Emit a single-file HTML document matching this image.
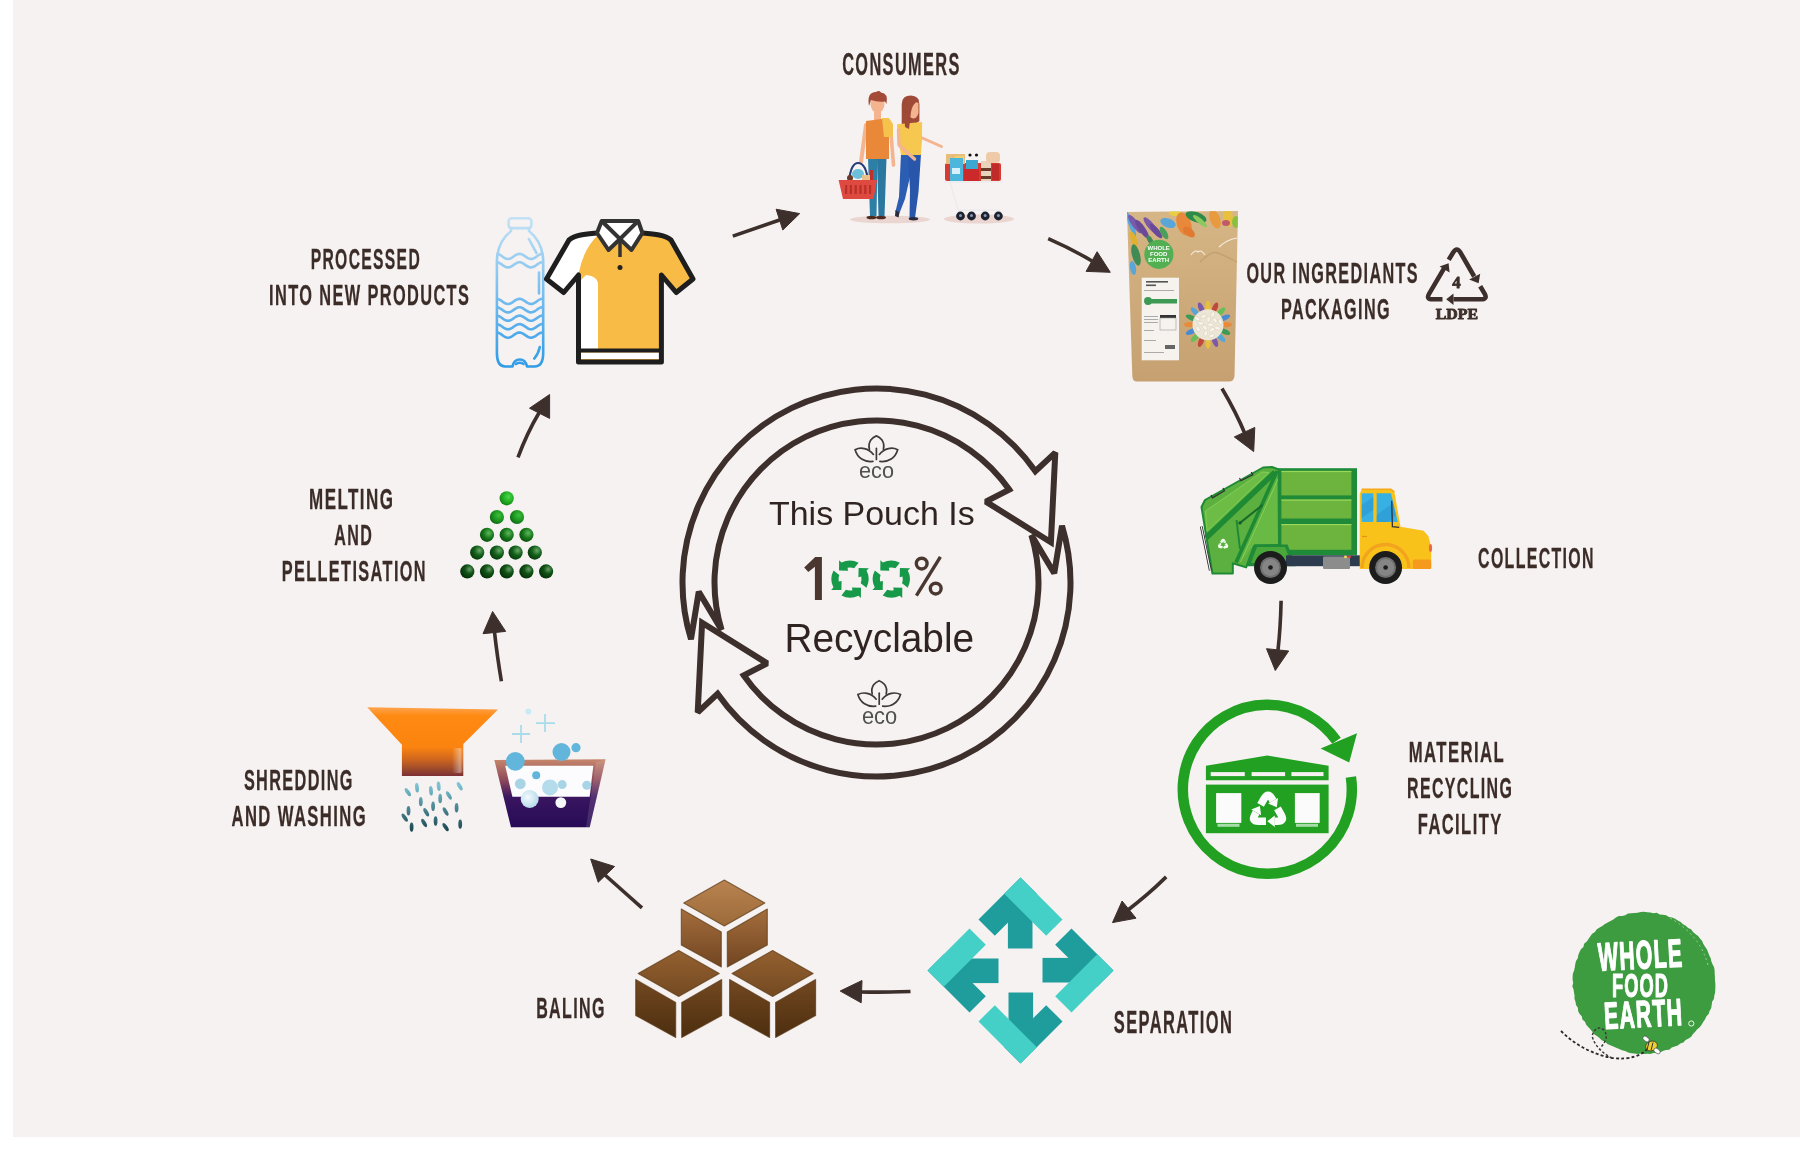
<!DOCTYPE html>
<html><head><meta charset="utf-8"><title>Recycling cycle</title>
<style>
html,body{margin:0;padding:0;background:#fff;}
body{width:1800px;height:1174px;position:relative;overflow:hidden;font-family:"Liberation Sans",sans-serif;}
#bg{position:absolute;left:13px;top:0;width:1787px;height:1137px;background:#f6f2f1;}
svg{position:absolute;left:0;top:0;will-change:transform;}
</style></head><body>
<div id="bg"></div>
<svg width="1800" height="1174" viewBox="0 0 1800 1174">
<defs>
<linearGradient id="gFunnel" gradientUnits="userSpaceOnUse" x1="0" y1="707" x2="0" y2="776">
 <stop offset="0" stop-color="#ffa450"/><stop offset="0.13" stop-color="#ff8a12"/><stop offset="0.58" stop-color="#fb830f"/><stop offset="0.75" stop-color="#d2681e"/><stop offset="0.9" stop-color="#9c4a2c"/><stop offset="1" stop-color="#7c3036"/></linearGradient>
<linearGradient id="gFunHi" gradientUnits="userSpaceOnUse" x1="452" y1="0" x2="463" y2="0">
 <stop offset="0" stop-color="#fff" stop-opacity="0"/><stop offset="0.75" stop-color="#fff" stop-opacity="0.4"/><stop offset="1" stop-color="#fff" stop-opacity="0.05"/></linearGradient>
<linearGradient id="gShred" gradientUnits="userSpaceOnUse" x1="0" y1="785" x2="0" y2="830">
 <stop offset="0" stop-color="#7cc3d3"/><stop offset="1" stop-color="#1f4a55"/></linearGradient>
<linearGradient id="gBasin" gradientUnits="userSpaceOnUse" x1="0" y1="759" x2="0" y2="828">
 <stop offset="0" stop-color="#c8886c"/><stop offset="0.3" stop-color="#8e4a5a"/><stop offset="0.55" stop-color="#3a1560"/><stop offset="1" stop-color="#260b56"/></linearGradient>
<linearGradient id="gCube" gradientUnits="userSpaceOnUse" x1="0" y1="880" x2="0" y2="1040">
 <stop offset="0" stop-color="#b8834f"/><stop offset="0.5" stop-color="#8c5a2c"/><stop offset="1" stop-color="#4e3010"/></linearGradient>
<linearGradient id="gBottle" gradientUnits="userSpaceOnUse" x1="0" y1="218" x2="0" y2="367">
 <stop offset="0" stop-color="#c4e2f6"/><stop offset="1" stop-color="#2f9be6"/></linearGradient>
<linearGradient id="gPouch" gradientUnits="userSpaceOnUse" x1="0" y1="211" x2="0" y2="381">
 <stop offset="0" stop-color="#d6b686"/><stop offset="1" stop-color="#c6a070"/></linearGradient>
<radialGradient id="gPel1" cx="0.62" cy="0.38" r="0.7"><stop offset="0" stop-color="#4ad84a"/><stop offset="0.6" stop-color="#1fa81f"/><stop offset="1" stop-color="#137a15"/></radialGradient>
<radialGradient id="gPel2" cx="0.62" cy="0.38" r="0.7"><stop offset="0" stop-color="#3cc03c"/><stop offset="0.6" stop-color="#1a901c"/><stop offset="1" stop-color="#0e6012"/></radialGradient>
<radialGradient id="gPel3" cx="0.62" cy="0.38" r="0.7"><stop offset="0" stop-color="#5cb85c"/><stop offset="0.55" stop-color="#157418"/><stop offset="1" stop-color="#0a4a0e"/></radialGradient>
<radialGradient id="gPel4" cx="0.65" cy="0.35" r="0.7"><stop offset="0" stop-color="#6aa86a"/><stop offset="0.5" stop-color="#12601a"/><stop offset="1" stop-color="#073a0b"/></radialGradient>
<radialGradient id="gPel5" cx="0.65" cy="0.35" r="0.7"><stop offset="0" stop-color="#6a9a6a"/><stop offset="0.45" stop-color="#0f5314"/><stop offset="1" stop-color="#062e08"/></radialGradient>
<radialGradient id="gBub" cx="0.4" cy="0.4" r="0.6"><stop offset="0" stop-color="#f4fafd"/><stop offset="1" stop-color="#b7dceb"/></radialGradient>
</defs>
<g class="consumers">
<ellipse cx="890" cy="219.5" rx="40" ry="3.8" fill="#ead5d0"/>
<ellipse cx="979" cy="219" rx="35" ry="4.6" fill="#ead5d0"/>
<path d="M866,125 L861,162" stroke="#f3b48f" stroke-width="4" stroke-linecap="round"/>
<path d="M891,134 L893.5,165" stroke="#f3b48f" stroke-width="3.6" stroke-linecap="round"/>
<polygon points="868,158 877.5,158 876.5,216 870,216" fill="#2e7fa6"/>
<polygon points="877,158 886.5,158 884.5,216 878.5,216" fill="#2a77a0"/>
<ellipse cx="871.5" cy="217.5" rx="5" ry="1.8" fill="#4d2a1f"/><ellipse cx="881" cy="217.5" rx="5" ry="1.8" fill="#4d2a1f"/>
<rect x="874" y="110" width="7" height="10" fill="#f3b48f"/>
<polygon points="866,121 889,118 889,159 866,159" fill="#ea883a"/>
<polygon points="882,118 889,118 893,124 893,137 884,137" fill="#f5c24d"/>
<ellipse cx="877.5" cy="104" rx="7" ry="9" fill="#f3b48f"/>
<path d="M869,106 Q866.5,92 876,92 Q879,90 881,92.5 Q888.5,93 886.5,104 L885,101.5 Q878,102.5 871,100 Z" fill="#a34a39"/>
<path d="M849,181 Q851,163 858,163 Q866,163 868,181" stroke="#263d7a" stroke-width="2.2" fill="none"/>
<ellipse cx="858" cy="174" rx="6" ry="5" fill="#6cc0dc"/><circle cx="850" cy="178" r="3" fill="#6a3a2a"/><rect x="862" y="175" width="8" height="5" fill="#e8c08a"/><rect x="870" y="170" width="3" height="10" fill="#c0302a"/>
<polygon points="838.6,180 877,180 873.5,199 843,199" fill="#de4a3f"/>
<g fill="#b8302a"><rect x="845.0" y="185" width="2.2" height="9"/><rect x="849.8" y="185" width="2.2" height="9"/><rect x="854.6" y="185" width="2.2" height="9"/><rect x="859.4" y="185" width="2.2" height="9"/><rect x="864.2" y="185" width="2.2" height="9"/><rect x="869.0" y="185" width="2.2" height="9"/></g>
<path d="M901.7,124 L901.7,104 Q902,95.6 911,95.6 Q919.2,96 919.4,104 L919.4,121 L909,129 Z" fill="#9e4a37"/>
<path d="M920,137 L941.5,146.5" stroke="#f3b48f" stroke-width="3" stroke-linecap="round"/>
<polygon points="901,154 915,154 905,199 899.5,213 895.5,211.5 899,197" fill="#2b5db3"/>
<polygon points="908,154 921,154 918.5,192 915,218 909.5,218 910,190" fill="#2856aa"/>
<path d="M895.5,210 L899.5,212.5 L898.5,217.5 L895,216 Z" fill="#2a2a3a"/><ellipse cx="913.5" cy="218.8" rx="4.8" ry="1.7" fill="#2a2a3a"/>
<polygon points="897,124.2 922.1,121.9 922,140 920.9,155 901.1,155.1 898,140" fill="#f6c84f"/>
<path d="M898.5,130 L899,145 L914.5,159" stroke="#f3b48f" stroke-width="3.4" stroke-linecap="round" stroke-linejoin="round" fill="none"/>
<path d="M909.8,104 Q913,100.5 918.5,103 L918.5,113 Q917,118.5 913,118.5 L909.5,117 Z" fill="#f3b48f"/>
<path d="M909,98 Q903,100 904,112 L905,127 L909,129 L911,112 Q912,104 919,100 Q915,96 909,98 Z" fill="#9e4a37"/>
<rect x="945" y="163" width="56" height="18" rx="2" fill="#d63a30"/>
<rect x="946" y="154" width="19" height="10" fill="#e6bd7a"/><rect x="955" y="156" width="9" height="8" fill="#f0d070"/>
<circle cx="970" cy="155" r="1.6" fill="#111"/><circle cx="976.5" cy="155" r="1.6" fill="#111"/>
<rect x="950" y="158" width="13" height="23" fill="#4cb6dc"/><rect x="952" y="168" width="8" height="6" fill="#d8f0fa"/>
<rect x="966" y="160" width="12" height="9" fill="#3aa8d0"/>
<rect x="964" y="169" width="15" height="12" fill="#cc2a2a"/>
<rect x="981" y="161" width="10" height="20" fill="#ead2bc"/><rect x="981" y="168" width="10" height="3" fill="#6a3a2a"/><rect x="981" y="176" width="10" height="3" fill="#6a3a2a"/>
<rect x="986" y="152" width="14" height="11" rx="4" fill="#eecaa8"/>
<rect x="992" y="164" width="7" height="16" fill="#c02a28"/>
<g stroke="#e8e8ea" stroke-width="1" fill="none"><path d="M944,182 L1003,182 M950,182 L958,210 L1000,210"/></g>
<circle cx="960.5" cy="216" r="4.4" fill="#1c2230"/><circle cx="960.5" cy="215.5" r="1.5" fill="#8a9ab0"/>
<circle cx="971.5" cy="216" r="4.4" fill="#1c2230"/><circle cx="971.5" cy="215.5" r="1.5" fill="#8a9ab0"/>
<circle cx="985.2" cy="216" r="4.4" fill="#1c2230"/><circle cx="985.2" cy="215.5" r="1.5" fill="#8a9ab0"/>
<circle cx="998.4" cy="216" r="4.4" fill="#1c2230"/><circle cx="998.4" cy="215.5" r="1.5" fill="#8a9ab0"/>
</g>
<g class="pouch">
<clipPath id="pouchClip"><path d="M1127,212 L1238,211 L1234.5,376 Q1234,381.5 1229,381.5 L1137,381.5 Q1132.5,381.5 1132.3,376 Z"/></clipPath>
<path d="M1127,212 L1238,211 L1234.5,376 Q1234,381.5 1229,381.5 L1137,381.5 Q1132.5,381.5 1132.3,376 Z" fill="url(#gPouch)"/>
<g clip-path="url(#pouchClip)">
<ellipse cx="1131" cy="224" rx="13" ry="2.5" transform="rotate(70 1131 224)" fill="#5aa6d8"/>
<ellipse cx="1135" cy="224" rx="11" ry="3.2" transform="rotate(55 1135 224)" fill="#7a5aa8"/>
<ellipse cx="1142" cy="229" rx="11" ry="3.2" transform="rotate(55 1142 229)" fill="#6a4a98"/>
<ellipse cx="1151" cy="226" rx="11" ry="3.2" transform="rotate(50 1151 226)" fill="#7a5aa8"/>
<ellipse cx="1156" cy="231" rx="9" ry="3" transform="rotate(50 1156 231)" fill="#6a4a98"/>
<ellipse cx="1168" cy="223" rx="8" ry="4.5" transform="rotate(20 1168 223)" fill="#5aa6d8"/>
<ellipse cx="1164" cy="233" rx="7" ry="3" transform="rotate(60 1164 233)" fill="#4aa05a"/>
<ellipse cx="1175" cy="213" rx="6" ry="3" transform="rotate(0 1175 213)" fill="#e8d040"/>
<ellipse cx="1184" cy="224" rx="12" ry="7" transform="rotate(70 1184 224)" fill="#e7883a"/>
<ellipse cx="1189" cy="232" rx="7" ry="4" transform="rotate(40 1189 232)" fill="#e07a30"/>
<ellipse cx="1196" cy="217" rx="11" ry="5" transform="rotate(20 1196 217)" fill="#2e8a48"/>
<ellipse cx="1200" cy="221" rx="9" ry="2.5" transform="rotate(40 1200 221)" fill="#8ac860"/>
<ellipse cx="1134" cy="240" rx="9" ry="3" transform="rotate(70 1134 240)" fill="#e0b030"/>
<ellipse cx="1136" cy="255" rx="11" ry="4" transform="rotate(75 1136 255)" fill="#3f8a55"/>
<ellipse cx="1133" cy="268" rx="7" ry="3" transform="rotate(80 1133 268)" fill="#5aa6d8"/>
<ellipse cx="1215" cy="219" rx="10" ry="5" transform="rotate(70 1215 219)" fill="#e89a3e"/>
<ellipse cx="1228" cy="218" rx="9" ry="5" transform="rotate(80 1228 218)" fill="#e8c040"/>
<ellipse cx="1226" cy="223" rx="4" ry="3" transform="rotate(0 1226 223)" fill="#c05a6a"/>
<ellipse cx="1236" cy="222" rx="4" ry="6" transform="rotate(0 1236 222)" fill="#8ac040"/>
<ellipse cx="1150" cy="240" rx="5" ry="2.5" transform="rotate(60 1150 240)" fill="#3f8a55"/>
</g>
<circle cx="1158.9" cy="254.3" r="14.6" fill="#52b052"/>
<g fill="#fff" font-family="Liberation Sans" font-weight="bold" font-size="6" text-anchor="middle"><text x="1158.7" y="250">WHOLE</text><text x="1158.7" y="256">FOOD</text><text x="1158.7" y="262">EARTH</text></g>
<path d="M1191,255 Q1195,249 1198,252 Q1201,249 1205,255 M1219,247 Q1226,240 1237,238" stroke="#f4ecdc" stroke-width="1.1" fill="none"/><path d="M1200,262 Q1212,250 1218,253 Q1226,256 1237,262" stroke="#b89868" stroke-width="1.4" fill="none" opacity="0.6"/>
<rect x="1141.7" y="277.7" width="37.3" height="82.6" fill="#f6f3ee"/>
<g fill="#555"><rect x="1146" y="281" width="22" height="1.6"/><rect x="1146" y="284.5" width="10" height="1.6"/><rect x="1144" y="290" width="30" height="0.8" fill="#999"/></g>
<circle cx="1148" cy="301" r="4" fill="#3d9a55"/><rect x="1151" y="299" width="26" height="4.5" fill="#3d9a55"/>
<g fill="#aaa"><rect x="1144" y="316" width="14" height="1"/><rect x="1144" y="319" width="14" height="1"/><rect x="1144" y="322" width="14" height="1"/><rect x="1144" y="330" width="10" height="1"/><rect x="1144" y="340" width="12" height="1"/><rect x="1144" y="352" width="20" height="1"/></g>
<rect x="1160" y="315" width="16" height="3" fill="#333"/><rect x="1160" y="318" width="16" height="12" fill="none" stroke="#999" stroke-width="0.6"/><rect x="1165" y="345" width="10" height="4" fill="#666"/>
<ellipse cx="1226.0" cy="324.7" rx="6" ry="2.6" transform="rotate(0.0 1226.0 324.7)" fill="#e88a3a"/>
<ellipse cx="1224.6" cy="331.6" rx="6" ry="2.6" transform="rotate(22.5 1224.6 331.6)" fill="#3e9a55"/>
<ellipse cx="1220.7" cy="337.4" rx="6" ry="2.6" transform="rotate(45.0 1220.7 337.4)" fill="#58a6d8"/>
<ellipse cx="1214.9" cy="341.3" rx="6" ry="2.6" transform="rotate(67.5 1214.9 341.3)" fill="#7a5aa8"/>
<ellipse cx="1208.0" cy="342.7" rx="6" ry="2.6" transform="rotate(90.0 1208.0 342.7)" fill="#e8c040"/>
<ellipse cx="1201.1" cy="341.3" rx="6" ry="2.6" transform="rotate(112.5 1201.1 341.3)" fill="#c04a3a"/>
<ellipse cx="1195.3" cy="337.4" rx="6" ry="2.6" transform="rotate(135.0 1195.3 337.4)" fill="#6abe5a"/>
<ellipse cx="1191.4" cy="331.6" rx="6" ry="2.6" transform="rotate(157.5 1191.4 331.6)" fill="#4a8ad0"/>
<ellipse cx="1190.0" cy="324.7" rx="6" ry="2.6" transform="rotate(180.0 1190.0 324.7)" fill="#e88a3a"/>
<ellipse cx="1191.4" cy="317.8" rx="6" ry="2.6" transform="rotate(202.5 1191.4 317.8)" fill="#3e9a55"/>
<ellipse cx="1195.3" cy="312.0" rx="6" ry="2.6" transform="rotate(225.0 1195.3 312.0)" fill="#58a6d8"/>
<ellipse cx="1201.1" cy="308.1" rx="6" ry="2.6" transform="rotate(247.5 1201.1 308.1)" fill="#7a5aa8"/>
<ellipse cx="1208.0" cy="306.7" rx="6" ry="2.6" transform="rotate(270.0 1208.0 306.7)" fill="#e8c040"/>
<ellipse cx="1214.9" cy="308.1" rx="6" ry="2.6" transform="rotate(292.5 1214.9 308.1)" fill="#c04a3a"/>
<ellipse cx="1220.7" cy="312.0" rx="6" ry="2.6" transform="rotate(315.0 1220.7 312.0)" fill="#6abe5a"/>
<ellipse cx="1224.6" cy="317.8" rx="6" ry="2.6" transform="rotate(337.5 1224.6 317.8)" fill="#4a8ad0"/>
<circle cx="1208" cy="324.7" r="15.5" fill="#ece6d6"/>
<ellipse cx="1210.5" cy="324.7" rx="3" ry="1.8" transform="rotate(0 1210.5 324.7)" fill="#f8f4ea" stroke="#d4ccb8" stroke-width="0.5"/>
<ellipse cx="1204.9" cy="327.6" rx="3" ry="1.8" transform="rotate(47 1204.9 327.6)" fill="#f8f4ea" stroke="#d4ccb8" stroke-width="0.5"/>
<ellipse cx="1208.5" cy="319.2" rx="3" ry="1.8" transform="rotate(94 1208.5 319.2)" fill="#f8f4ea" stroke="#d4ccb8" stroke-width="0.5"/>
<ellipse cx="1212.0" cy="329.8" rx="3" ry="1.8" transform="rotate(141 1212.0 329.8)" fill="#f8f4ea" stroke="#d4ccb8" stroke-width="0.5"/>
<ellipse cx="1200.7" cy="323.4" rx="3" ry="1.8" transform="rotate(8 1200.7 323.4)" fill="#f8f4ea" stroke="#d4ccb8" stroke-width="0.5"/>
<ellipse cx="1214.9" cy="320.3" rx="3" ry="1.8" transform="rotate(55 1214.9 320.3)" fill="#f8f4ea" stroke="#d4ccb8" stroke-width="0.5"/>
<ellipse cx="1205.7" cy="333.3" rx="3" ry="1.8" transform="rotate(102 1205.7 333.3)" fill="#f8f4ea" stroke="#d4ccb8" stroke-width="0.5"/>
<ellipse cx="1203.6" cy="316.3" rx="3" ry="1.8" transform="rotate(149 1203.6 316.3)" fill="#f8f4ea" stroke="#d4ccb8" stroke-width="0.5"/>
<ellipse cx="1217.5" cy="328.1" rx="3" ry="1.8" transform="rotate(16 1217.5 328.1)" fill="#f8f4ea" stroke="#d4ccb8" stroke-width="0.5"/>
<ellipse cx="1198.1" cy="328.9" rx="3" ry="1.8" transform="rotate(63 1198.1 328.9)" fill="#f8f4ea" stroke="#d4ccb8" stroke-width="0.5"/>
<ellipse cx="1212.7" cy="314.5" rx="3" ry="1.8" transform="rotate(110 1212.7 314.5)" fill="#f8f4ea" stroke="#d4ccb8" stroke-width="0.5"/>
<ellipse cx="1211.6" cy="335.9" rx="3" ry="1.8" transform="rotate(157 1211.6 335.9)" fill="#f8f4ea" stroke="#d4ccb8" stroke-width="0.5"/>
<ellipse cx="1197.3" cy="318.7" rx="3" ry="1.8" transform="rotate(24 1197.3 318.7)" fill="#f8f4ea" stroke="#d4ccb8" stroke-width="0.5"/>
<ellipse cx="1220.4" cy="321.8" rx="3" ry="1.8" transform="rotate(71 1220.4 321.8)" fill="#f8f4ea" stroke="#d4ccb8" stroke-width="0.5"/>
</g>
<g class="ldpe" fill="none" stroke="#3d2f2b" stroke-width="4.6" stroke-linejoin="round">
<path d="M1448.7,259.8 L1453.3,252.3 Q1456.8,246.8 1460.3,252.3 L1474.2,276.5"/>
<path d="M1480.2,286.3 L1484.6,293.6 Q1487.8,299.3 1481.2,299.3 L1453.5,299.3"/>
<path d="M1442.5,299.3 L1432.4,299.3 Q1425.8,299.3 1429.2,293.6 L1444.2,268.2"/>
</g><g fill="#3d2f2b">
<polygon points="1478.6,283.2 1469.2,279.6 1480.2,273.8"/>
<polygon points="1446.2,299.3 1453.5,293.6 1453.5,305"/>
<polygon points="1448.6,263.2 1439.6,266.6 1449.6,272.4"/>
</g>
<g class="truck">
<polygon points="1201.5,507 1205,500 1263,467.5 1272,467 1278.7,469.5 1278.7,544.4 1254.3,544.9 1246.1,567.4 1232.8,563.3 1232.8,573.5 1212.4,573.5" fill="#5cb040" stroke="#1e8a34" stroke-width="2" stroke-linejoin="round"/>
<polygon points="1205.5,511 1262,472 1269,472.5 1207,531" fill="#6cbc45" stroke="#8ad65a" stroke-width="0.8"/>
<polygon points="1242,560 1277,480 1278,544 1254,544.5" fill="#68ba44"/>
<path d="M1206,538 L1275,472.3" stroke="#1e8a34" stroke-width="5.5"/>
<path d="M1236,562.5 L1277,471" stroke="#1e8a34" stroke-width="3.6"/>
<path d="M1240.5,562 L1278,479" stroke="#8ad65a" stroke-width="0.9"/>
<path d="M1240,522.9 L1262.5,505" stroke="#1a6a2a" stroke-width="2"/><path d="M1236.5,520 L1240,549" stroke="#1e8a34" stroke-width="2"/><circle cx="1240" cy="522.9" r="1.7" fill="#1a5a2a"/>
<path d="M1211,495 L1212.5,497.8 L1224.5,490.8 L1223,488 M1239.5,478 L1241,480.8 L1252.8,474.8 L1251.3,472" stroke="#333" stroke-width="1.2" fill="none"/>
<path d="M1201.3,526.5 L1210.3,570.4" stroke="#2a2a2a" stroke-width="2.8"/><path d="M1201.3,526.5 L1210.3,570.4" stroke="#fff" stroke-width="1.1"/>
<path d="M1221.04,542.66 L1222.07,540.88 Q1223.10,539.10 1224.13,540.88 L1224.50,541.53" stroke="#f4fff0" stroke-width="2.3" fill="none"/><polygon points="1223.0,542.4 1225.5,543.3 1226.0,540.7" fill="#f4fff0"/><path d="M1225.72,543.64 L1226.75,545.42 Q1227.78,547.20 1225.72,547.20 L1224.97,547.20" stroke="#f4fff0" stroke-width="2.3" fill="none"/><polygon points="1225.0,545.5 1222.9,547.2 1225.0,548.9" fill="#f4fff0"/><path d="M1222.54,547.20 L1220.48,547.20 Q1218.42,547.20 1219.45,545.42 L1219.83,544.77" stroke="#f4fff0" stroke-width="2.3" fill="none"/><polygon points="1221.3,545.6 1220.9,543.0 1218.3,543.9" fill="#f4fff0"/>
<rect x="1278" y="468.2" width="79" height="87.1" fill="#1f8a38"/>
<g fill="#6cb43e"><rect x="1281.4" y="470.9" width="70" height="24.5"/><rect x="1281.4" y="499.5" width="70" height="19"/><rect x="1281.4" y="524" width="70" height="25.8"/></g>
<g fill="#9ad85a"><rect x="1281.4" y="470.9" width="70" height="1.2"/><rect x="1281.4" y="499.5" width="70" height="1.2"/><rect x="1281.4" y="524" width="70" height="1.2"/></g>
<polygon points="1254.9,544.4 1287.6,544.4 1295.7,566.2 1246.7,566.2" fill="#1f8a38"/>
<polygon points="1257,547 1285,547 1291,563 1251,563" fill="#4aa83a"/>
<rect x="1286" y="555.3" width="74" height="10.9" fill="#2d3b4e"/>
<rect x="1323" y="556.5" width="27" height="12.5" rx="1" fill="#8c8c8c"/>
<circle cx="1345.5" cy="556.9" r="1.4" fill="#f4e04a"/><circle cx="1349.5" cy="556.9" r="1.4" fill="#e04040"/>
<path d="M1359.7,494 L1361.7,489.3 L1391,489.3 L1394.4,492 L1400.5,526.7 L1423.7,530.8 L1428.4,536.2 L1431.2,547.1 L1431.2,568.9 L1359.7,568.9 Z" fill="#f8c21a"/>
<path d="M1361.7,489.3 L1391,489.3 L1394.4,492" stroke="#f4a81a" stroke-width="1.5" fill="none"/>
<polygon points="1361.7,493.3 1373.3,493.3 1373.3,521.9 1361.7,521.9" fill="#37b0e4"/>
<polygon points="1376.7,493.3 1391,493.3 1397.8,521.9 1376.7,521.9" fill="#37b0e4"/>
<polygon points="1361.7,505 1373.3,497 1373.3,510 1361.7,518" fill="#2a98d0" opacity="0.6"/>
<polygon points="1376.7,515 1393,503 1396,515 1388,521.9 1376.7,521.9" fill="#2a98d0" opacity="0.6"/>
<path d="M1391.7,500.8 L1392.4,526.7 L1399.2,527.4" stroke="#2a3040" stroke-width="1.3" fill="none"/>
<path d="M1362,536.5 L1367,536.5" stroke="#e8901a" stroke-width="1.2"/>
<path d="M1362,568 A23.5,23.5 0 0 1 1409,568" stroke="#f2a41e" stroke-width="3.5" fill="none"/>
<rect x="1412.8" y="559.4" width="18.4" height="9.5" rx="1.5" fill="#f59a1c"/>
<ellipse cx="1430.5" cy="548" rx="1.6" ry="4" fill="#e86a4a"/>
<circle cx="1270.5" cy="567.5" r="16.5" fill="#1c1c1c"/><circle cx="1270.5" cy="567.5" r="10.5" fill="#6f6f6f"/><circle cx="1270.5" cy="567.5" r="8.5" fill="#858585"/><circle cx="1270.5" cy="567.5" r="2.3" fill="#1c1c1c"/>
<circle cx="1385.6" cy="567.5" r="16.5" fill="#1c1c1c"/><circle cx="1385.6" cy="567.5" r="10.5" fill="#6f6f6f"/><circle cx="1385.6" cy="567.5" r="8.5" fill="#858585"/><circle cx="1385.6" cy="567.5" r="2.3" fill="#1c1c1c"/>
</g>
<g class="mrf">
<path d="M1350.9,776.95 A84.5,84.5 0 1 1 1336.5,740.8" stroke="#21a021" stroke-width="10.5" fill="none"/>
<polygon points="1320.6,748.6 1357,733.3 1349.2,762.6" fill="#21a021"/>
<polygon points="1205.9,765.8 1267.2,755.6 1328.6,765.8 1328.6,780.3 1205.9,780.3" fill="#21a021"/>
<g fill="#f6f2f1"><rect x="1210.7" y="772.1" width="34.1" height="4"/><rect x="1251.6" y="772.1" width="33.5" height="4"/><rect x="1291.4" y="772.1" width="32.1" height="4"/></g>
<rect x="1205.9" y="784.6" width="122.7" height="48.6" fill="#21a021"/>
<g fill="#fbfbfb"><rect x="1216.1" y="793.1" width="25.2" height="29.8"/><rect x="1294.9" y="793.1" width="24.8" height="29.8"/></g>
<g fill="#a8dca8"><rect x="1217.5" y="823.8" width="22" height="3"/><rect x="1296" y="823.8" width="22" height="3"/></g>
<path d="M1260.57,804.87 L1264.28,798.43 Q1268.00,792.00 1271.72,798.43 L1273.07,800.77" stroke="#fbfbfb" stroke-width="7.6" fill="none"/><polygon points="1268.1,803.6 1276.8,807.2 1278.0,797.9" fill="#fbfbfb"/><path d="M1277.46,808.38 L1281.17,814.82 Q1284.89,821.25 1277.46,821.25 L1274.75,821.25" stroke="#fbfbfb" stroke-width="7.6" fill="none"/><polygon points="1274.8,815.5 1267.3,821.2 1274.8,827.0" fill="#fbfbfb"/><path d="M1265.97,821.25 L1258.54,821.25 Q1251.11,821.25 1254.83,814.82 L1256.18,812.48" stroke="#fbfbfb" stroke-width="7.6" fill="none"/><polygon points="1261.1,815.3 1259.9,806.0 1251.2,809.6" fill="#fbfbfb"/>
</g>
<g class="sep" transform="translate(1020.5,970.5)">
<g transform="rotate(0)"><rect x="-12.6" y="-62" width="24.6" height="40" fill="#1f9c9c"/><polygon points="-42,-51 0,-93 16.3,-76.7 -25.7,-34.7" fill="#1f9c9c"/><polygon points="0,-93 42,-51 25.7,-34.7 -16.3,-76.7" fill="#44d0c7"/></g>
<g transform="rotate(90)"><rect x="-12.6" y="-62" width="24.6" height="40" fill="#1f9c9c"/><polygon points="-42,-51 0,-93 16.3,-76.7 -25.7,-34.7" fill="#1f9c9c"/><polygon points="0,-93 42,-51 25.7,-34.7 -16.3,-76.7" fill="#44d0c7"/></g>
<g transform="rotate(180)"><rect x="-12.6" y="-62" width="24.6" height="40" fill="#1f9c9c"/><polygon points="-42,-51 0,-93 16.3,-76.7 -25.7,-34.7" fill="#1f9c9c"/><polygon points="0,-93 42,-51 25.7,-34.7 -16.3,-76.7" fill="#44d0c7"/></g>
<g transform="rotate(270)"><rect x="-12.6" y="-62" width="24.6" height="40" fill="#1f9c9c"/><polygon points="-42,-51 0,-93 16.3,-76.7 -25.7,-34.7" fill="#1f9c9c"/><polygon points="0,-93 42,-51 25.7,-34.7 -16.3,-76.7" fill="#44d0c7"/></g>
</g>
<defs><linearGradient id="cT1" x1="0" y1="0" x2="0" y2="1"><stop offset="0" stop-color="#b8834f"/><stop offset="1" stop-color="#9c6a3a"/></linearGradient><linearGradient id="cS1" x1="0" y1="0" x2="0" y2="1"><stop offset="0" stop-color="#a46d3c"/><stop offset="1" stop-color="#714622"/></linearGradient><linearGradient id="cT2" x1="0" y1="0" x2="0" y2="1"><stop offset="0" stop-color="#94602f"/><stop offset="1" stop-color="#744a22"/></linearGradient><linearGradient id="cS2" x1="0" y1="0" x2="0" y2="1"><stop offset="0" stop-color="#734821"/><stop offset="1" stop-color="#4c2e0f"/></linearGradient></defs>
<g class="cubes" stroke="#5a3814" stroke-width="1.1" stroke-opacity="0.7" stroke-linejoin="round">
<polygon points="724.3,880.0 764.9,903.0 724.3,926.0 683.7,903.0" fill="url(#cT1)"/>
<polygon points="681.3,909.0 721.3,932.0 721.3,967.0 681.3,945.0" fill="url(#cS1)"/>
<polygon points="727.3,932.0 767.3,909.0 767.3,945.0 727.3,967.0" fill="url(#cS1)"/>
<polygon points="678.7,950.5 719.3,973.5 678.7,996.5 638.1,973.5" fill="url(#cT2)"/>
<polygon points="635.7,979.5 675.7,1002.5 675.7,1037.5 635.7,1015.5" fill="url(#cS2)"/>
<polygon points="681.7,1002.5 721.7,979.5 721.7,1015.5 681.7,1037.5" fill="url(#cS2)"/>
<polygon points="772.6,950.5 813.2,973.5 772.6,996.5 732.0,973.5" fill="url(#cT2)"/>
<polygon points="729.6,979.5 769.6,1002.5 769.6,1037.5 729.6,1015.5" fill="url(#cS2)"/>
<polygon points="775.6,1002.5 815.6,979.5 815.6,1015.5 775.6,1037.5" fill="url(#cS2)"/>
</g>
<g class="funnel">
<polygon points="367.2,707.3 498,709.4 463.3,744.1 463.3,775.9 401.9,775.9 401.9,744.8" fill="url(#gFunnel)"/>
<rect x="451" y="748" width="12.3" height="25" rx="4" fill="url(#gFunHi)"/>
<ellipse cx="407.8" cy="792.1" rx="1.9" ry="4.7" transform="rotate(-35 407.8 792.1)" fill="url(#gShred)"/>
<ellipse cx="417" cy="787.8" rx="1.9" ry="4.7" transform="rotate(-5 417 787.8)" fill="url(#gShred)"/>
<ellipse cx="431" cy="790.8" rx="1.9" ry="4.7" transform="rotate(-5 431 790.8)" fill="url(#gShred)"/>
<ellipse cx="438.7" cy="786.2" rx="1.9" ry="4.7" transform="rotate(-5 438.7 786.2)" fill="url(#gShred)"/>
<ellipse cx="459.7" cy="786.2" rx="1.9" ry="4.7" transform="rotate(-30 459.7 786.2)" fill="url(#gShred)"/>
<ellipse cx="448.9" cy="795.4" rx="1.9" ry="4.7" transform="rotate(-30 448.9 795.4)" fill="url(#gShred)"/>
<ellipse cx="440.2" cy="798.5" rx="1.9" ry="4.7" transform="rotate(0 440.2 798.5)" fill="url(#gShred)"/>
<ellipse cx="420.8" cy="801.6" rx="1.9" ry="4.7" transform="rotate(0 420.8 801.6)" fill="url(#gShred)"/>
<ellipse cx="433.1" cy="806.2" rx="1.9" ry="4.7" transform="rotate(0 433.1 806.2)" fill="url(#gShred)"/>
<ellipse cx="456.6" cy="807.7" rx="1.9" ry="4.7" transform="rotate(0 456.6 807.7)" fill="url(#gShred)"/>
<ellipse cx="408.5" cy="810.8" rx="1.9" ry="4.7" transform="rotate(0 408.5 810.8)" fill="url(#gShred)"/>
<ellipse cx="426.2" cy="812.3" rx="1.9" ry="4.7" transform="rotate(-30 426.2 812.3)" fill="url(#gShred)"/>
<ellipse cx="445.6" cy="811.6" rx="1.9" ry="4.7" transform="rotate(-30 445.6 811.6)" fill="url(#gShred)"/>
<ellipse cx="404.7" cy="817.7" rx="1.9" ry="4.7" transform="rotate(-35 404.7 817.7)" fill="url(#gShred)"/>
<ellipse cx="435.6" cy="821" rx="1.9" ry="4.7" transform="rotate(0 435.6 821)" fill="url(#gShred)"/>
<ellipse cx="424.1" cy="823" rx="1.9" ry="4.7" transform="rotate(-30 424.1 823)" fill="url(#gShred)"/>
<ellipse cx="411.6" cy="827.1" rx="1.9" ry="4.7" transform="rotate(0 411.6 827.1)" fill="url(#gShred)"/>
<ellipse cx="445.6" cy="827.1" rx="1.9" ry="4.7" transform="rotate(-35 445.6 827.1)" fill="url(#gShred)"/>
<ellipse cx="460.2" cy="824.1" rx="1.9" ry="4.7" transform="rotate(0 460.2 824.1)" fill="url(#gShred)"/>
</g>
<g class="basin">
<polygon points="494.3,760 605.6,759.3 589.7,827.2 511,827.2" fill="url(#gBasin)"/>
<polygon points="505.2,765.8 593.3,765.8 589.7,796.8 512.4,796.8" fill="#fcfcfe"/>
<polygon points="596,762 605.6,759.3 589.7,827.2 586,827" fill="#fff" opacity="0.12"/>
<circle cx="515.3" cy="761.4" r="9.4" fill="#62b6dc"/>
<circle cx="561.5" cy="752" r="9" fill="#62b6dc"/>
<circle cx="576" cy="747.7" r="4.6" fill="#62b6dc"/>
<circle cx="536.2" cy="775.2" r="4" fill="#62b6dc"/>
<circle cx="520.3" cy="783.8" r="5.4" fill="#a8d4e6"/>
<circle cx="550" cy="787.4" r="8" fill="#b4dcea"/>
<circle cx="562.2" cy="784.6" r="4.5" fill="#a8d4e6"/>
<circle cx="586.8" cy="785.3" r="4.5" fill="#a8d4e6"/>
<circle cx="529.7" cy="799" r="9" fill="url(#gBub)"/>
<circle cx="560.8" cy="802.6" r="5.4" fill="#f4f8fa"/>
<g stroke="#a8dcea" stroke-width="1.8"><path d="M521,725 L521,743 M512,734 L530,734 M545,714 L545,732 M536,723.2 L555,723.2"/></g>
<circle cx="528.3" cy="711.6" r="3" fill="#c8eaf4"/>
</g>
<g class="pellets">
<circle cx="506.7" cy="498.3" r="7.1" fill="url(#gPel1)"/>
<circle cx="496.9" cy="517" r="7.1" fill="url(#gPel2)"/>
<circle cx="517" cy="517" r="7.1" fill="url(#gPel2)"/>
<circle cx="487" cy="534.8" r="7.1" fill="url(#gPel3)"/>
<circle cx="506.7" cy="534.8" r="7.1" fill="url(#gPel3)"/>
<circle cx="526.4" cy="534.8" r="7.1" fill="url(#gPel3)"/>
<circle cx="477.2" cy="552.6" r="7.1" fill="url(#gPel4)"/>
<circle cx="496.9" cy="552.6" r="7.1" fill="url(#gPel4)"/>
<circle cx="515.6" cy="552.6" r="7.1" fill="url(#gPel4)"/>
<circle cx="534.8" cy="552.6" r="7.1" fill="url(#gPel4)"/>
<circle cx="467.3" cy="571.4" r="7.1" fill="url(#gPel5)"/>
<circle cx="487" cy="571.4" r="7.1" fill="url(#gPel5)"/>
<circle cx="506.7" cy="571.4" r="7.1" fill="url(#gPel5)"/>
<circle cx="526.4" cy="571.4" r="7.1" fill="url(#gPel5)"/>
<circle cx="546.1" cy="571.4" r="7.1" fill="url(#gPel5)"/>
</g>
<g class="bottle" fill="none" stroke="url(#gBottle)" stroke-width="2.6" stroke-linecap="round" stroke-linejoin="round">
<rect x="508.6" y="218.3" width="22.8" height="9.8" rx="3"/>
<path d="M511,228.2 L511,231 C501,239 496.9,250 496.9,262 L496.9,353 C496.9,362 499,366.5 505,366.5 L512.5,366.5 C513.5,361.5 516,359.5 519.8,359.5 C523.5,359.5 526,361.5 527,366.5 L534.5,366.5 C540.5,366.5 543.2,362 543.2,353 L543.2,262 C543.2,250 539,239 529,231 L529,228.2"/>
<path d="M497.5,253.9 L499.0,254.4 L500.5,255.2 L502.0,256.2 L503.5,257.3 L505.0,258.2 L506.5,258.8 L508.0,259.0 L509.5,258.8 L511.0,258.2 L512.5,257.3 L514.0,256.2 L515.5,255.2 L517.0,254.4 L518.5,253.9 L520.0,253.8 L521.5,254.2 L523.0,254.9 L524.5,255.9 L526.0,256.9 L527.5,257.9 L529.0,258.6 L530.5,259.0 L532.0,258.9 L533.5,258.4 L535.0,257.6 L536.5,256.6 L538.0,255.5 L539.5,254.6 L541.0,254.0 L542.5,253.8"/>
<path d="M497.5,262.3 L499.0,262.8 L500.5,263.6 L502.0,264.6 L503.5,265.7 L505.0,266.6 L506.5,267.2 L508.0,267.4 L509.5,267.2 L511.0,266.6 L512.5,265.7 L514.0,264.6 L515.5,263.6 L517.0,262.8 L518.5,262.3 L520.0,262.2 L521.5,262.6 L523.0,263.3 L524.5,264.3 L526.0,265.3 L527.5,266.3 L529.0,267.0 L530.5,267.4 L532.0,267.3 L533.5,266.8 L535.0,266.0 L536.5,265.0 L538.0,263.9 L539.5,263.0 L541.0,262.4 L542.5,262.2"/>
<path d="M497.5,298.9 L499.0,299.4 L500.5,300.2 L502.0,301.2 L503.5,302.3 L505.0,303.2 L506.5,303.8 L508.0,304.0 L509.5,303.8 L511.0,303.2 L512.5,302.3 L514.0,301.2 L515.5,300.2 L517.0,299.4 L518.5,298.9 L520.0,298.8 L521.5,299.2 L523.0,299.9 L524.5,300.9 L526.0,301.9 L527.5,302.9 L529.0,303.6 L530.5,304.0 L532.0,303.9 L533.5,303.4 L535.0,302.6 L536.5,301.6 L538.0,300.5 L539.5,299.6 L541.0,299.0 L542.5,298.8"/>
<path d="M497.5,307.3 L499.0,307.8 L500.5,308.6 L502.0,309.6 L503.5,310.7 L505.0,311.6 L506.5,312.2 L508.0,312.4 L509.5,312.2 L511.0,311.6 L512.5,310.7 L514.0,309.6 L515.5,308.6 L517.0,307.8 L518.5,307.3 L520.0,307.2 L521.5,307.6 L523.0,308.3 L524.5,309.3 L526.0,310.3 L527.5,311.3 L529.0,312.0 L530.5,312.4 L532.0,312.3 L533.5,311.8 L535.0,311.0 L536.5,310.0 L538.0,308.9 L539.5,308.0 L541.0,307.4 L542.5,307.2"/>
<path d="M497.5,315.7 L499.0,316.2 L500.5,317.0 L502.0,318.0 L503.5,319.1 L505.0,320.0 L506.5,320.6 L508.0,320.8 L509.5,320.6 L511.0,320.0 L512.5,319.1 L514.0,318.0 L515.5,317.0 L517.0,316.2 L518.5,315.7 L520.0,315.6 L521.5,316.0 L523.0,316.7 L524.5,317.7 L526.0,318.7 L527.5,319.7 L529.0,320.4 L530.5,320.8 L532.0,320.7 L533.5,320.2 L535.0,319.4 L536.5,318.4 L538.0,317.3 L539.5,316.4 L541.0,315.8 L542.5,315.6"/>
<path d="M497.5,324.2 L499.0,324.7 L500.5,325.5 L502.0,326.5 L503.5,327.6 L505.0,328.5 L506.5,329.1 L508.0,329.3 L509.5,329.1 L511.0,328.5 L512.5,327.6 L514.0,326.5 L515.5,325.5 L517.0,324.7 L518.5,324.2 L520.0,324.1 L521.5,324.5 L523.0,325.2 L524.5,326.2 L526.0,327.2 L527.5,328.2 L529.0,328.9 L530.5,329.3 L532.0,329.2 L533.5,328.7 L535.0,327.9 L536.5,326.9 L538.0,325.8 L539.5,324.9 L541.0,324.3 L542.5,324.1"/>
<path d="M497.5,332.6 L499.0,333.1 L500.5,333.9 L502.0,334.9 L503.5,336.0 L505.0,336.9 L506.5,337.5 L508.0,337.7 L509.5,337.5 L511.0,336.9 L512.5,336.0 L514.0,334.9 L515.5,333.9 L517.0,333.1 L518.5,332.6 L520.0,332.5 L521.5,332.9 L523.0,333.6 L524.5,334.6 L526.0,335.6 L527.5,336.6 L529.0,337.3 L530.5,337.7 L532.0,337.6 L533.5,337.1 L535.0,336.3 L536.5,335.3 L538.0,334.2 L539.5,333.3 L541.0,332.7 L542.5,332.5"/>
<path d="M539,272.5 L539,293.5 M528.9,239 L536.4,252.9 M539.8,347 Q538.5,353.5 534.3,358.5 M516,364 Q519.8,361.5 523.5,364"/>
</g>
<g class="shirt">
<path d="M597,233 C585,234 575,235 569,240 L546.5,279 L563.7,292.5 L578.5,275 L578.5,362 L661.4,362 L661.4,275 L676.2,292.5 L693,279 L671,240 C665,235 655,234 642.4,233 L620,240 Z" fill="#f8bb45"/>
<path d="M597,233 C585,234 575,235 569,240 L546.5,279 L563.7,292.5 L578.5,275 L579,272 Q584,248 598,235 Z" fill="#fff"/>
<path d="M580,281 L586,275 Q598,276 598,285 L598,350 L580,350 Z" fill="#fff"/>
<rect x="579" y="352.5" width="81" height="6.5" fill="#fff"/>
<path d="M597,233 C585,234 575,235 569,240 L546.5,279 L563.7,292.5 L578.5,275 L578.5,362 L661.4,362 L661.4,275 L676.2,292.5 L693,279 L671,240 C665,235 655,234 642.4,233" fill="none" stroke="#1e1e1e" stroke-width="5" stroke-linejoin="round"/>
<path d="M578.5,350.5 L661.4,350.5" stroke="#1e1e1e" stroke-width="4"/>
<path d="M601.7,221 L638.2,221 L642.4,233 L631.5,250 L620,239 L608.5,250 L597,233 Z" fill="#fff" stroke="#333" stroke-width="4" stroke-linejoin="round"/>
<path d="M601.7,221 L620,239 L638.2,221" fill="none" stroke="#333" stroke-width="4" stroke-linejoin="round"/>
<path d="M620,239 L620,257" stroke="#333" stroke-width="3.5"/><circle cx="620" cy="267.6" r="2.5" fill="#222"/>
</g>
<g class="wfe">
<path d="M1715.3,983.0 L1715.4,986.2 L1715.3,989.4 L1715.1,992.6 L1714.3,995.7 L1713.9,998.9 L1712.1,1001.7 L1711.7,1004.9 L1711.2,1008.1 L1709.6,1010.9 L1708.6,1013.9 L1706.3,1016.4 L1705.1,1019.3 L1703.2,1021.9 L1701.6,1024.7 L1699.7,1027.2 L1697.2,1029.2 L1695.2,1031.7 L1693.0,1034.0 L1691.2,1036.7 L1688.6,1038.6 L1685.6,1040.0 L1683.4,1042.4 L1680.3,1043.4 L1677.8,1045.5 L1674.7,1046.4 L1671.7,1047.6 L1669.2,1049.7 L1665.9,1050.0 L1662.9,1051.0 L1660.0,1052.6 L1656.8,1053.1 L1653.5,1053.0 L1650.4,1054.1 L1647.2,1053.8 L1644.0,1054.1 L1640.8,1053.4 L1637.6,1054.1 L1634.4,1053.4 L1631.2,1053.3 L1628.1,1052.5 L1625.1,1051.1 L1622.0,1050.2 L1619.1,1049.0 L1616.2,1047.8 L1613.3,1046.4 L1610.4,1045.2 L1607.4,1043.9 L1605.1,1041.6 L1602.0,1040.5 L1599.7,1038.2 L1597.3,1036.2 L1594.5,1034.5 L1592.6,1031.9 L1590.5,1029.5 L1588.4,1027.2 L1586.2,1024.8 L1585.0,1021.7 L1582.4,1019.6 L1581.8,1016.3 L1579.6,1013.9 L1578.1,1011.0 L1577.9,1007.7 L1576.0,1005.0 L1575.5,1001.8 L1574.5,998.8 L1574.5,995.5 L1574.0,992.4 L1573.5,989.3 L1572.3,986.2 L1573.2,983.0 L1572.6,979.8 L1572.6,976.6 L1572.9,973.4 L1574.1,970.4 L1574.8,967.3 L1575.3,964.1 L1576.0,961.0 L1577.8,958.3 L1578.3,955.0 L1579.5,952.1 L1580.9,949.2 L1583.4,946.9 L1584.1,943.7 L1586.8,941.6 L1588.5,938.9 L1590.3,936.3 L1592.2,933.7 L1594.9,931.9 L1596.8,929.3 L1599.6,927.6 L1602.3,925.9 L1604.9,924.1 L1607.7,922.5 L1610.5,921.1 L1613.3,919.5 L1615.9,917.6 L1618.8,916.1 L1622.1,916.0 L1625.2,915.2 L1628.0,913.4 L1631.3,913.3 L1634.5,912.9 L1637.6,912.8 L1640.8,912.1 L1644.0,911.8 L1647.2,912.3 L1650.4,912.5 L1653.5,913.3 L1656.8,912.8 L1659.7,914.5 L1662.9,914.7 L1666.1,915.2 L1668.9,917.1 L1672.1,917.6 L1675.1,918.7 L1677.8,920.5 L1680.7,921.9 L1683.0,924.3 L1685.8,925.7 L1688.1,927.9 L1691.1,929.3 L1693.0,932.0 L1695.4,934.1 L1698.1,936.0 L1700.0,938.6 L1702.1,941.0 L1703.4,944.0 L1705.1,946.7 L1706.9,949.3 L1708.1,952.3 L1709.2,955.3 L1710.6,958.1 L1711.3,961.2 L1712.5,964.2 L1714.0,967.1 L1714.6,970.3 L1714.7,973.5 L1714.9,976.6 L1714.9,979.8 Z" fill="#3d9b40"/>
<path d="M1670,918 Q1700,935 1708,965" stroke="#9ccf9c" stroke-width="1" stroke-dasharray="2 3" fill="none"/>
</g>
<path d="M1561,1031 Q1582,1052 1612,1058 Q1638,1061 1649,1047" stroke="#2a2a2a" stroke-width="1.8" stroke-dasharray="3 2.2" fill="none"/>
<path d="M1612,1058 Q1596,1050 1592,1036 Q1596,1024 1604,1030 Q1610,1038 1600,1048" stroke="#3a3a3a" stroke-width="1.5" stroke-dasharray="2.5 2" fill="none"/>
<ellipse cx="1651.5" cy="1046" rx="6" ry="4.8" fill="#f0d030" stroke="#333" stroke-width="0.7" transform="rotate(-20 1651.5 1046)"/><path d="M1649,1042 L1647,1050 M1653,1042.5 L1651,1050.5" stroke="#333" stroke-width="1"/>
<ellipse cx="1646" cy="1039" rx="3.6" ry="2.2" fill="#fff" stroke="#444" stroke-width="0.6" transform="rotate(40 1646 1039)"/>
<ellipse cx="1657" cy="1051" rx="3.6" ry="2.2" fill="#fff" stroke="#444" stroke-width="0.6" transform="rotate(40 1657 1051)"/>
<g class="lbl">
<text transform="translate(842.18,74.84) scale(0.01633,0.03078)" font-family="Liberation Sans" font-weight="bold" font-size="1000" fill="#3b2c28" letter-spacing="85" stroke="#3b2c28" stroke-width="10" stroke-linejoin="round" >CONSUMERS</text>
<text transform="translate(1246.38,282.76) scale(0.01619,0.02911)" font-family="Liberation Sans" font-weight="bold" font-size="1000" fill="#3b2c28" letter-spacing="85" stroke="#3b2c28" stroke-width="10" stroke-linejoin="round" >OUR INGREDIANTS</text>
<text transform="translate(1280.98,318.86) scale(0.01616,0.02911)" font-family="Liberation Sans" font-weight="bold" font-size="1000" fill="#3b2c28" letter-spacing="85" stroke="#3b2c28" stroke-width="10" stroke-linejoin="round" >PACKAGING</text>
<text transform="translate(1478.08,567.96) scale(0.01590,0.02925)" font-family="Liberation Sans" font-weight="bold" font-size="1000" fill="#3b2c28" letter-spacing="85" stroke="#3b2c28" stroke-width="10" stroke-linejoin="round" >COLLECTION</text>
<text transform="translate(1408.78,761.95) scale(0.01671,0.02980)" font-family="Liberation Sans" font-weight="bold" font-size="1000" fill="#3b2c28" letter-spacing="85" stroke="#3b2c28" stroke-width="10" stroke-linejoin="round" >MATERIAL</text>
<text transform="translate(1407.08,797.66) scale(0.01596,0.02911)" font-family="Liberation Sans" font-weight="bold" font-size="1000" fill="#3b2c28" letter-spacing="85" stroke="#3b2c28" stroke-width="10" stroke-linejoin="round" >RECYCLING</text>
<text transform="translate(1417.78,833.57) scale(0.01656,0.02883)" font-family="Liberation Sans" font-weight="bold" font-size="1000" fill="#3b2c28" letter-spacing="85" stroke="#3b2c28" stroke-width="10" stroke-linejoin="round" >FACILITY</text>
<text transform="translate(1113.83,1032.74) scale(0.01646,0.03057)" font-family="Liberation Sans" font-weight="bold" font-size="1000" fill="#3b2c28" letter-spacing="85" stroke="#3b2c28" stroke-width="10" stroke-linejoin="round" >SEPARATION</text>
<text transform="translate(536.18,1017.81) scale(0.01603,0.02960)" font-family="Liberation Sans" font-weight="bold" font-size="1000" fill="#3b2c28" letter-spacing="85" stroke="#3b2c28" stroke-width="10" stroke-linejoin="round" >BALING</text>
<text transform="translate(243.88,790.46) scale(0.01626,0.02911)" font-family="Liberation Sans" font-weight="bold" font-size="1000" fill="#3b2c28" letter-spacing="85" stroke="#3b2c28" stroke-width="10" stroke-linejoin="round" >SHREDDING</text>
<text transform="translate(231.48,826.36) scale(0.01663,0.02925)" font-family="Liberation Sans" font-weight="bold" font-size="1000" fill="#3b2c28" letter-spacing="85" stroke="#3b2c28" stroke-width="10" stroke-linejoin="round" >AND WASHING</text>
<text transform="translate(309.08,509.46) scale(0.01699,0.02939)" font-family="Liberation Sans" font-weight="bold" font-size="1000" fill="#3b2c28" letter-spacing="85" stroke="#3b2c28" stroke-width="10" stroke-linejoin="round" >MELTING</text>
<text transform="translate(334.28,545.45) scale(0.01606,0.02937)" font-family="Liberation Sans" font-weight="bold" font-size="1000" fill="#3b2c28" letter-spacing="85" stroke="#3b2c28" stroke-width="10" stroke-linejoin="round" >AND</text>
<text transform="translate(281.68,581.46) scale(0.01630,0.02939)" font-family="Liberation Sans" font-weight="bold" font-size="1000" fill="#3b2c28" letter-spacing="85" stroke="#3b2c28" stroke-width="10" stroke-linejoin="round" >PELLETISATION</text>
<text transform="translate(310.68,269.06) scale(0.01567,0.02939)" font-family="Liberation Sans" font-weight="bold" font-size="1000" fill="#3b2c28" letter-spacing="85" stroke="#3b2c28" stroke-width="10" stroke-linejoin="round" >PROCESSED</text>
<text transform="translate(269.08,304.86) scale(0.01634,0.02939)" font-family="Liberation Sans" font-weight="bold" font-size="1000" fill="#3b2c28" letter-spacing="85" stroke="#3b2c28" stroke-width="10" stroke-linejoin="round" >INTO NEW PRODUCTS</text>
</g>
<g class="arrows">
<path d="M732.8,236.1 L781,219.5" stroke="#3d2f2b" stroke-width="3.6" fill="none"/><polygon points="799.7,213.6 776.1,209.2 782.8,230.0" fill="#3d2f2b" stroke="#3d2f2b" stroke-width="1" stroke-linejoin="round"/>
<path d="M1048.2,238.6 Q1072,249 1092,261" stroke="#3d2f2b" stroke-width="3.6" fill="none"/><polygon points="1110.3,272.3 1097.1,251.7 1086.1,271.4" fill="#3d2f2b" stroke="#3d2f2b" stroke-width="1" stroke-linejoin="round"/>
<path d="M1222,388.5 Q1236,412 1245.5,435" stroke="#3d2f2b" stroke-width="3.6" fill="none"/><polygon points="1253.7,451.6 1254.8,427.4 1234.3,436.9" fill="#3d2f2b" stroke="#3d2f2b" stroke-width="1" stroke-linejoin="round"/>
<path d="M1281.1,600.7 Q1280.5,628 1278,650" stroke="#3d2f2b" stroke-width="3.6" fill="none"/><polygon points="1275.3,670.5 1266.5,648.7 1288.7,651.0" fill="#3d2f2b" stroke="#3d2f2b" stroke-width="1" stroke-linejoin="round"/>
<path d="M1166.2,876.9 Q1150,893 1128,910" stroke="#3d2f2b" stroke-width="3.6" fill="none"/><polygon points="1112.5,922.6 1122.1,901.0 1136.0,918.2" fill="#3d2f2b" stroke="#3d2f2b" stroke-width="1" stroke-linejoin="round"/>
<path d="M910.5,991.5 Q885,992.5 861,992" stroke="#3d2f2b" stroke-width="3.6" fill="none"/><polygon points="840.2,991.0 862.0,980.5 861.2,1002.8" fill="#3d2f2b" stroke="#3d2f2b" stroke-width="1" stroke-linejoin="round"/>
<path d="M642,907.9 L605,875" stroke="#3d2f2b" stroke-width="3.6" fill="none"/><polygon points="590.7,859.0 614.6,866.5 598.2,882.3" fill="#3d2f2b" stroke="#3d2f2b" stroke-width="1" stroke-linejoin="round"/>
<path d="M501.4,681.3 Q497,655 494.5,632" stroke="#3d2f2b" stroke-width="3.6" fill="none"/><polygon points="492.6,611.5 483.0,633.7 505.7,631.4" fill="#3d2f2b" stroke="#3d2f2b" stroke-width="1" stroke-linejoin="round"/>
<path d="M518,457.3 Q527,433 539.5,412" stroke="#3d2f2b" stroke-width="3.6" fill="none"/><polygon points="549.6,394.5 529.5,408.2 549.6,418.4" fill="#3d2f2b" stroke="#3d2f2b" stroke-width="1" stroke-linejoin="round"/>
</g>
<g class="ring"><path d="M690.98,639.22 A194,194 0 0 1 1035.42,471.23 L1055.29,452.60 L1050.91,542.23 L985.82,501.60 L1009.20,489.58 A162,162 0 0 0 721.58,629.86 L698.74,591.82 Z" fill="none" stroke="#3d2f2b" stroke-width="6" stroke-linejoin="miter" stroke-miterlimit="2"/><path d="M1062.02,525.78 A194,194 0 0 1 717.58,693.77 L697.71,712.40 L702.09,622.77 L767.18,663.40 L743.80,675.42 A162,162 0 0 0 1031.42,535.14 L1054.26,573.18 Z" fill="none" stroke="#3d2f2b" stroke-width="6" stroke-linejoin="miter" stroke-miterlimit="2"/></g>
<text transform="translate(769.00,524.77) scale(0.03396,0.03293)" font-family="Liberation Sans" font-weight="normal" font-size="1000" fill="#2f2421" >This Pouch Is</text>
<text transform="translate(784.40,651.96) scale(0.03879,0.04105)" font-family="Liberation Sans" font-weight="normal" font-size="1000" fill="#2f2421" >Recyclable</text>
<polygon points="815.2,556.9 821.9,556.9 821.9,599.9 814.9,599.9 814.9,566.7 808.3,571.9 804.2,567.4" fill="#4a3830"/>
<g fill="none" stroke="#4a3830" stroke-width="3.4"><circle cx="921.7" cy="563.6" r="5.4"/><circle cx="935.7" cy="588.6" r="5.4"/></g>
<line x1="916.4" y1="595.6" x2="940.4" y2="556.8" stroke="#4a3830" stroke-width="3.4"/>
<g fill="#17994a" transform="translate(850,579.1)"><path d="M8.59,-16.46 A18.6,18.6 0 0 0 -8.5,-16.55 L-10.9,-18.9 L-11.0,-8.6 L-1.9,-8.4 L-2.49,-11.23 A11.5,11.5 0 0 1 4.12,-10.74 Z" transform="rotate(0)"/><path d="M8.59,-16.46 A18.6,18.6 0 0 0 -8.5,-16.55 L-10.9,-18.9 L-11.0,-8.6 L-1.9,-8.4 L-2.49,-11.23 A11.5,11.5 0 0 1 4.12,-10.74 Z" transform="rotate(90)"/><path d="M8.59,-16.46 A18.6,18.6 0 0 0 -8.5,-16.55 L-10.9,-18.9 L-11.0,-8.6 L-1.9,-8.4 L-2.49,-11.23 A11.5,11.5 0 0 1 4.12,-10.74 Z" transform="rotate(180)"/><path d="M8.59,-16.46 A18.6,18.6 0 0 0 -8.5,-16.55 L-10.9,-18.9 L-11.0,-8.6 L-1.9,-8.4 L-2.49,-11.23 A11.5,11.5 0 0 1 4.12,-10.74 Z" transform="rotate(270)"/></g>
<g fill="#17994a" transform="translate(891.3,579.1)"><path d="M8.59,-16.46 A18.6,18.6 0 0 0 -8.5,-16.55 L-10.9,-18.9 L-11.0,-8.6 L-1.9,-8.4 L-2.49,-11.23 A11.5,11.5 0 0 1 4.12,-10.74 Z" transform="rotate(0)"/><path d="M8.59,-16.46 A18.6,18.6 0 0 0 -8.5,-16.55 L-10.9,-18.9 L-11.0,-8.6 L-1.9,-8.4 L-2.49,-11.23 A11.5,11.5 0 0 1 4.12,-10.74 Z" transform="rotate(90)"/><path d="M8.59,-16.46 A18.6,18.6 0 0 0 -8.5,-16.55 L-10.9,-18.9 L-11.0,-8.6 L-1.9,-8.4 L-2.49,-11.23 A11.5,11.5 0 0 1 4.12,-10.74 Z" transform="rotate(180)"/><path d="M8.59,-16.46 A18.6,18.6 0 0 0 -8.5,-16.55 L-10.9,-18.9 L-11.0,-8.6 L-1.9,-8.4 L-2.49,-11.23 A11.5,11.5 0 0 1 4.12,-10.74 Z" transform="rotate(270)"/></g>
<g fill="none" stroke="#3c3a3a" stroke-width="1.7" stroke-linecap="round"><path d="M869.4,449.2 C867.4,440.9 873.4,436.9 876.4,435.9 C879.4,436.9 885.4,440.9 883.4,449.2"/><path d="M873.4,454.4 C868.4,447.9 860.4,446.9 855.1,449.7 C857.4,457.9 864.4,462.4 872.9,461.4"/><path d="M879.4,454.4 C884.4,447.9 892.4,446.9 897.6999999999999,449.7 C895.4,457.9 888.4,462.4 879.9,461.4"/><path d="M876.4,448.4 L876.4,459.4"/></g>
<text transform="translate(859.00,478.27) scale(0.02171,0.02281)" font-family="Liberation Sans" font-weight="normal" font-size="1000" fill="#505050" >eco</text>
<g fill="none" stroke="#3c3a3a" stroke-width="1.7" stroke-linecap="round"><path d="M872.2,694.0 C870.2,685.7 876.2,681.7 879.2,680.7 C882.2,681.7 888.2,685.7 886.2,694.0"/><path d="M876.2,699.2 C871.2,692.7 863.2,691.7 857.9000000000001,694.5 C860.2,702.7 867.2,707.2 875.7,706.2"/><path d="M882.2,699.2 C887.2,692.7 895.2,691.7 900.5,694.5 C898.2,702.7 891.2,707.2 882.7,706.2"/><path d="M879.2,693.2 L879.2,704.2"/></g>
<text transform="translate(861.90,723.67) scale(0.02184,0.02336)" font-family="Liberation Sans" font-weight="normal" font-size="1000" fill="#505050" >eco</text>
<text transform="translate(1435.78,319.22) scale(0.01588,0.01492)" font-family="Liberation Serif" font-weight="bold" font-size="1000" fill="#3d2f2b" stroke="#3d2f2b" stroke-width="60" stroke-linejoin="round" >LDPE</text>
<text transform="translate(1452.22,288.30) scale(0.01673,0.01582)" font-family="Liberation Serif" font-weight="bold" font-size="1000" fill="#3d2f2b" stroke="#3d2f2b" stroke-width="50" stroke-linejoin="round" >4</text>
<g stroke="#fff" stroke-width="35" stroke-linejoin="round">
<g transform="rotate(-3 1640 955)"><text transform="translate(1598.00,968.60) scale(0.02120,0.03955)" font-family="Liberation Sans" font-weight="bold" font-size="1000" fill="#ffffff" letter-spacing="60" >WHOLE</text></g>
<text transform="translate(1612.00,996.66) scale(0.01825,0.03390)" font-family="Liberation Sans" font-weight="bold" font-size="1000" fill="#ffffff" letter-spacing="60" >FOOD</text>
<g transform="rotate(-3 1643 1014)"><text transform="translate(1604.00,1027.00) scale(0.02117,0.03779)" font-family="Liberation Sans" font-weight="bold" font-size="1000" fill="#ffffff" letter-spacing="60" >EARTH</text></g>
</g>
<circle cx="1691.3" cy="1023.5" r="2.6" fill="none" stroke="#fff" stroke-width="0.9"/>
</svg>
</body></html>
